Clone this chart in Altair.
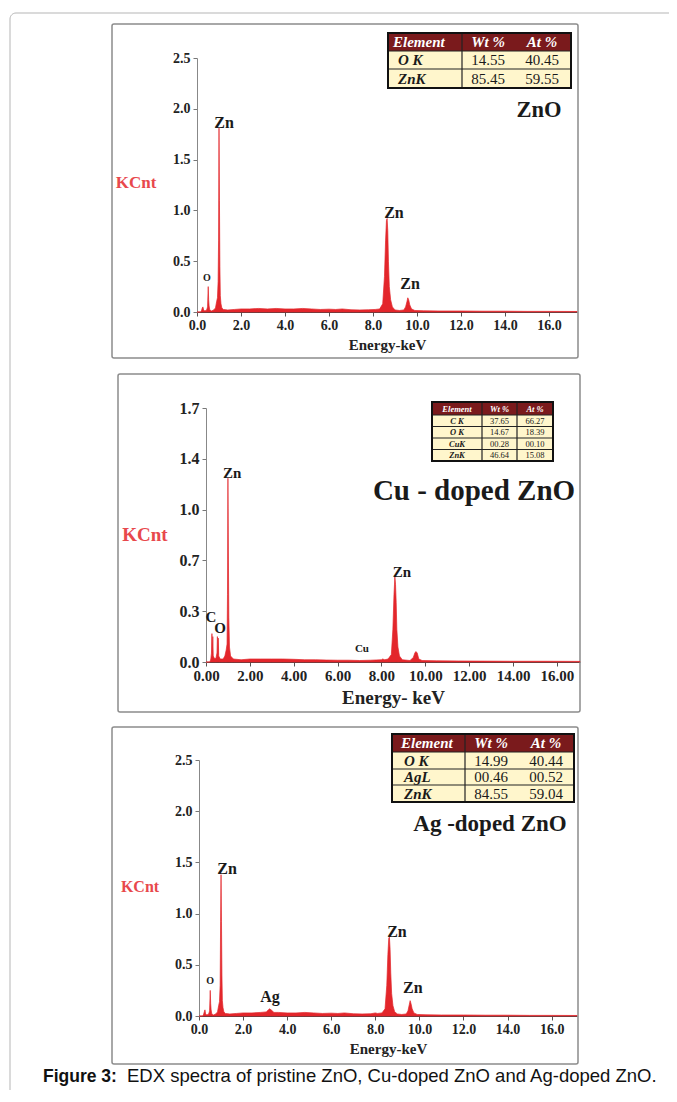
import altair as alt
import pandas as pd

SERIF = "Liberation Serif"
SANS = "Liberation Sans"
RED = "#E3262B"
KRED = "#E8484C"
INK = "#1a1a1a"
HEAD = "#7A1A1C"
ROWF = "#FFF6CC"
FRAME = "#b5b5b5"
BOX = "#8c8c8c"
CANVAS_W, CANVAS_H = 661, 1082

# (energy keV, KCnt)
ZNO_SPECTRUM = [
    (0.00, 0.00), (0.15, 0.00), (0.20, 0.01), (0.24, 0.04), (0.27, 0.05), (0.30, 0.02),
    (0.36, 0.01), (0.44, 0.02), (0.48, 0.05), (0.51, 0.25), (0.53, 0.12), (0.55, 0.06),
    (0.58, 0.02), (0.66, 0.01), (0.76, 0.02), (0.84, 0.04), (0.89, 0.10), (0.93, 0.14),
    (0.96, 0.30), (0.98, 0.70), (1.00, 1.81), (1.02, 1.10), (1.04, 0.45), (1.06, 0.16),
    (1.09, 0.08), (1.13, 0.04), (1.20, 0.025), (1.40, 0.02), (1.70, 0.025), (2.00, 0.03),
    (2.40, 0.03), (2.80, 0.035), (3.20, 0.03), (3.60, 0.035), (4.00, 0.03), (4.40, 0.03),
    (4.80, 0.035), (5.20, 0.03), (5.60, 0.025), (6.00, 0.028), (6.30, 0.025), (6.60, 0.03),
    (7.00, 0.022), (7.40, 0.02), (7.80, 0.022), (8.10, 0.025), (8.30, 0.03), (8.44, 0.08),
    (8.52, 0.35), (8.57, 0.70), (8.61, 0.90), (8.64, 0.92), (8.67, 0.80), (8.70, 0.50),
    (8.74, 0.25), (8.80, 0.12), (8.88, 0.05), (9.00, 0.02), (9.20, 0.015), (9.40, 0.02),
    (9.48, 0.05), (9.54, 0.10), (9.58, 0.14), (9.62, 0.12), (9.67, 0.07), (9.75, 0.03),
    (9.90, 0.015), (10.3, 0.012), (11.0, 0.01), (12.0, 0.01), (13.0, 0.008), (14.0, 0.008),
    (15.0, 0.006), (16.0, 0.006), (17.27, 0.005),
]
CU_SPECTRUM = [
    (0.00, 0.00), (0.18, 0.00), (0.22, 0.02), (0.25, 0.06), (0.27, 0.19), (0.29, 0.06),
    (0.31, 0.17), (0.33, 0.04), (0.40, 0.02), (0.46, 0.03), (0.50, 0.06), (0.52, 0.17),
    (0.54, 0.05), (0.56, 0.16), (0.58, 0.04), (0.65, 0.02), (0.78, 0.02), (0.86, 0.04),
    (0.92, 0.08), (0.96, 0.12), (0.98, 0.45), (1.00, 1.23), (1.02, 0.75), (1.04, 0.30),
    (1.07, 0.10), (1.12, 0.04), (1.25, 0.02), (1.60, 0.015), (2.00, 0.02), (2.50, 0.02),
    (3.00, 0.02), (3.50, 0.02), (4.00, 0.018), (4.50, 0.015), (5.00, 0.015), (5.50, 0.013),
    (6.00, 0.012), (6.50, 0.012), (7.00, 0.01), (7.50, 0.012), (8.00, 0.015), (8.05, 0.02),
    (8.15, 0.015), (8.30, 0.02), (8.45, 0.05), (8.52, 0.22), (8.57, 0.45), (8.61, 0.57),
    (8.64, 0.52), (8.67, 0.40), (8.70, 0.22), (8.75, 0.10), (8.82, 0.04), (8.95, 0.015),
    (9.30, 0.01), (9.45, 0.03), (9.52, 0.06), (9.57, 0.07), (9.63, 0.06), (9.70, 0.02),
    (9.85, 0.01), (10.5, 0.008), (11.5, 0.007), (12.5, 0.006), (14.0, 0.005), (15.5, 0.005),
    (17.05, 0.004),
]
AG_SPECTRUM = [
    (0.00, 0.00), (0.15, 0.00), (0.20, 0.01), (0.24, 0.04), (0.27, 0.06), (0.30, 0.02),
    (0.36, 0.01), (0.44, 0.02), (0.48, 0.05), (0.51, 0.25), (0.53, 0.12), (0.55, 0.06),
    (0.58, 0.02), (0.66, 0.01), (0.76, 0.02), (0.84, 0.04), (0.89, 0.10), (0.93, 0.14),
    (0.96, 0.30), (0.98, 0.92), (1.00, 1.38), (1.02, 0.92), (1.04, 0.40), (1.06, 0.15),
    (1.09, 0.08), (1.13, 0.04), (1.20, 0.025), (1.40, 0.02), (1.70, 0.025), (2.00, 0.03),
    (2.40, 0.03), (2.80, 0.035), (3.05, 0.04), (3.15, 0.06), (3.20, 0.07), (3.27, 0.06),
    (3.40, 0.035), (3.60, 0.035), (4.00, 0.03), (4.40, 0.03), (4.80, 0.035), (5.20, 0.03),
    (5.60, 0.025), (6.00, 0.028), (6.30, 0.025), (6.60, 0.03), (7.00, 0.022), (7.40, 0.02),
    (7.80, 0.022), (8.00, 0.03), (8.10, 0.025), (8.30, 0.03), (8.44, 0.07), (8.52, 0.30),
    (8.57, 0.60), (8.61, 0.76), (8.64, 0.77), (8.67, 0.65), (8.70, 0.42), (8.74, 0.22),
    (8.80, 0.10), (8.88, 0.04), (9.00, 0.02), (9.20, 0.015), (9.40, 0.02), (9.48, 0.05),
    (9.54, 0.11), (9.58, 0.15), (9.62, 0.12), (9.67, 0.07), (9.75, 0.03), (9.90, 0.015),
    (10.3, 0.012), (11.0, 0.01), (12.0, 0.01), (13.0, 0.008), (14.0, 0.008), (15.0, 0.006),
    (16.0, 0.006), (17.15, 0.005),
]

# peak labels: (text, energy, KCnt, font size)
ZNO_PEAKS = [("Zn", 1.23, 1.86, 16), ("Zn", 8.95, 0.97, 16), ("Zn", 9.68, 0.276, 16), ("O", 0.45, 0.335, 10)]
CU_PEAKS = [("Zn", 1.19, 1.265, 15), ("Zn", 8.93, 0.60, 15), ("C", 0.23, 0.30, 15),
            ("O", 0.64, 0.23, 15), ("Cu", 7.11, 0.087, 11)]
AG_PEAKS = [("Zn", 1.27, 1.435, 16), ("Zn", 8.98, 0.82, 16), ("Zn", 9.70, 0.273, 16),
            ("O", 0.50, 0.342, 10), ("Ag", 3.22, 0.186, 16)]

X_TICKS = [0, 2, 4, 6, 8, 10, 12, 14, 16]
Y_TICKS_ZNO = [0, 0.5, 1.0, 1.5, 2.0, 2.5]
Y_TICKS_CU = [0, 0.34, 0.68, 1.02, 1.36, 1.7]
Y_TICKS_AG = [0, 0.5, 1.0, 1.5, 2.0, 2.5]

TABLE_HEADER = ["Element", "Wt %", "At %"]
ZNO_TABLE = [("O K", "14.55", "40.45"), ("ZnK", "85.45", "59.55")]
CU_TABLE = [("C K", "37.65", "66.27"), ("O K", "14.67", "18.39"),
            ("CuK", "00.28", "00.10"), ("ZnK", "46.64", "15.08")]
AG_TABLE = [("O K", "14.99", "40.44"), ("AgL", "00.46", "00.52"), ("ZnK", "84.55", "59.04")]

PANEL_TITLES = ["ZnO", "Cu - doped ZnO", "Ag -doped ZnO"]
X_TITLES = ["Energy-keV", "Energy- keV", "Energy-keV"]
CAPTION_BOLD = "Figure 3:"
CAPTION_TEXT = "EDX spectra of pristine ZnO, Cu-doped ZnO and Ag-doped ZnO."


def one():
    return alt.Chart(pd.DataFrame({"k": [0]}))


def txt(text, x, y, size, color=INK, font=SERIF, weight="bold", style="normal",
        align="center", baseline="middle"):
    return one().mark_text(text=text, font=font, fontSize=size, fontWeight=weight,
                           fontStyle=style, color=color, align=align,
                           baseline=baseline).encode(x=alt.value(x), y=alt.value(y))


def rect(x, x2, y, y2, fill=None, stroke=None, sw=1.0, radius=0):
    kw = {}
    if fill:
        kw["fill"] = fill
    else:
        kw["fillOpacity"] = 0
    if stroke:
        kw["stroke"] = stroke
        kw["strokeWidth"] = sw
    if radius:
        kw["cornerRadius"] = radius
    return one().mark_rect(**kw).encode(x=alt.value(x), x2=alt.value(x2),
                                        y=alt.value(y), y2=alt.value(y2))


def hline(x, x2, y, color, sw):
    return one().mark_rule(color=color, strokeWidth=sw).encode(
        x=alt.value(x), x2=alt.value(x2), y=alt.value(y))


def vline(x, y, y2, color, sw):
    return one().mark_rule(color=color, strokeWidth=sw).encode(
        x=alt.value(x), y=alt.value(y), y2=alt.value(y2))


def table(xe, ye, rows, fs, inner, head_pos, row_pos):
    L = []
    x0, x1 = xe[0], xe[-1]
    L.append(rect(x0, x1, ye[0], ye[1], fill=HEAD))
    L.append(rect(x0, x1, ye[1], ye[-1], fill=ROWF))
    for y in ye[1:-1]:
        L.append(hline(x0, x1, y, "#222", 1.2))
    for x in inner:
        L.append(vline(x, ye[0], ye[-1], "#222", 1.2))
    L.append(rect(x0, x1, ye[0], ye[-1], stroke="#111", sw=2))
    yc = (ye[0] + ye[1]) / 2
    for j, h in enumerate(TABLE_HEADER):
        px, al = head_pos[j]
        L.append(txt(h, px, yc, fs, color="white", style="italic", align=al))
    for i, r in enumerate(rows):
        yc = (ye[i + 1] + ye[i + 2]) / 2
        for j, v in enumerate(r):
            px, al = row_pos[j]
            if j == 0:
                L.append(txt(v, px, yc, fs, style="italic", align=al))
            else:
                L.append(txt(v, px, yc, fs, weight="normal", align=al))
    return L


def panel(spec, peaks, xr, yr, xmax, ymax, yticks, xfmt, lab_x, lab_y, xtitle, xts, tpad):
    """xr / yr: pixel ranges of the panel's scales inside the shared canvas."""
    df = pd.DataFrame(spec, columns=["e", "c"])
    pk = pd.DataFrame(peaks, columns=["t", "e", "c", "s"])
    xs = alt.Scale(domain=[0, xmax], range=list(xr), nice=False, zero=False)
    ys = alt.Scale(domain=[0, ymax], range=list(yr), nice=False, zero=False)
    xaxis = alt.Axis(orient="bottom", offset=yr[0] - CANVAS_H, values=X_TICKS, format=xfmt,
                     labelFont=SERIF, labelFontWeight="bold", labelFontSize=lab_x,
                     labelColor="#222", labelPadding=2, labelFlush=False, labelOverlap=False,
                     tickSize=4, tickColor="#555", domainColor="#444", grid=False,
                     title=xtitle, titleFont=SERIF, titleFontSize=xts, titleFontWeight="bold",
                     titleColor="#222", titlePadding=tpad)
    yaxis = alt.Axis(orient="left", offset=-xr[0], values=yticks, format=".1f",
                     labelFont=SERIF, labelFontWeight="bold", labelFontSize=lab_y,
                     labelColor="#222", labelPadding=3, labelFlush=False, labelOverlap=False,
                     tickSize=4, tickColor="#777", domainColor="#888", grid=False, title=None)
    area = alt.Chart(df).mark_area(fill=RED, stroke=RED, strokeWidth=0.7,
                                   interpolate="linear").encode(
        x=alt.X("e:Q", scale=xs, axis=xaxis), y=alt.Y("c:Q", scale=ys, axis=yaxis))
    labels = alt.Chart(pk).mark_text(font=SERIF, fontWeight="bold", color=INK,
                                     baseline="middle").encode(
        x=alt.X("e:Q", scale=xs, axis=None), y=alt.Y("c:Q", scale=ys, axis=None),
        text="t:N", size=alt.Size("s:Q", scale=None))
    return [area, labels]


layers = []
# outer page frame (rounded corner, runs off the right and bottom edges)
layers.append(rect(2, CANVAS_W + 20, 5, CANVAS_H + 20, stroke=FRAME, sw=1, radius=6))

# ---------- panel 1: ZnO ----------
layers += [rect(104, 570, 16, 350, stroke=BOX, sw=1.5, radius=2),
           txt("KCnt", 128, 175, 17, color=KRED),
           txt(PANEL_TITLES[0], 531, 102, 22.5)]
layers += table([380, 454, 563], [25, 43, 61, 80], ZNO_TABLE, 15, [454],
                [(385, "left"), (480, "center"), (534, "center")],
                [(390, "left"), (480, "center"), (534, "center")])
layers += panel(ZNO_SPECTRUM, ZNO_PEAKS, (189, 569), (304, 50), 17.27, 2.5, Y_TICKS_ZNO,
                ".1f", 14, 14, X_TITLES[0], 15, 5)

# ---------- panel 2: Cu-doped ----------
layers += [rect(110, 572, 366, 704, stroke=BOX, sw=1.5, radius=2),
           txt("KCnt", 137, 527, 19, color=KRED),
           txt(PANEL_TITLES[1], 466, 483, 29)]
layers += table([424, 474, 509, 545], [394, 407, 418.5, 430, 441.5, 453], CU_TABLE, 8.5,
                [474, 509],
                [(449, "center"), (491.5, "center"), (527, "center")],
                [(449, "center"), (491.5, "center"), (527, "center")])
layers += panel(CU_SPECTRUM, CU_PEAKS, (198, 572), (654, 400), 17.05, 1.7, Y_TICKS_CU,
                ".2f", 15, 16, X_TITLES[1], 19, 5)

# ---------- panel 3: Ag-doped ----------
layers += [rect(104, 570, 719, 1056, stroke=BOX, sw=1.5, radius=2),
           txt("KCnt", 132, 879, 16, color=KRED),
           txt(PANEL_TITLES[2], 482, 816, 23)]
layers += table([384, 457, 566], [726, 744, 761, 777, 794], AG_TABLE, 15, [457],
                [(393, "left"), (483, "center"), (538, "center")],
                [(396, "left"), (483, "center"), (538, "center")])
layers += panel(AG_SPECTRUM, AG_PEAKS, (191, 569), (1008, 752), 17.15, 2.5, Y_TICKS_AG,
                ".1f", 14, 14, X_TITLES[2], 15, 5)

# ---------- caption ----------
layers += [txt(CAPTION_BOLD, 35, 1074, 17.5, color="#111", font=SANS, align="left",
               baseline="alphabetic"),
           txt(CAPTION_TEXT, 119, 1074, 18.5, color="#111", font=SANS, weight="normal",
               align="left", baseline="alphabetic")]

chart = alt.layer(*layers).resolve_scale(
    x="independent", y="independent"
).resolve_axis(
    x="independent", y="independent"
).properties(
    width=CANVAS_W, height=CANVAS_H,
    autosize=alt.AutoSizeParams(type="none"),
    padding=0, background="white",
).configure_view(strokeWidth=0)

chart.save("out.html", embed_options={"renderer": "svg", "actions": False})
